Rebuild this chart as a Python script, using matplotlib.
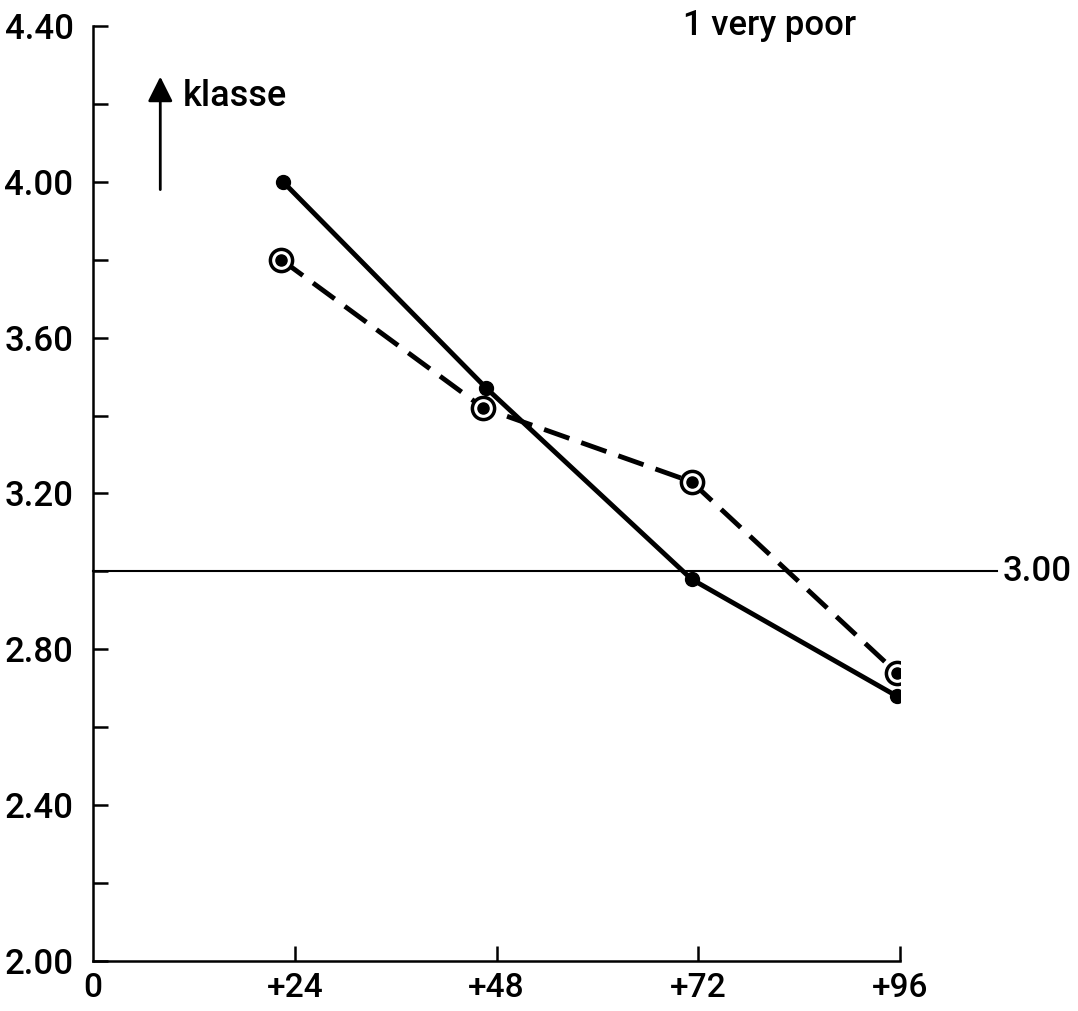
import numpy as np
import matplotlib
matplotlib.use("Agg")
import matplotlib.pyplot as plt

# data
hours_solid = [22.6, 46.8, 71.2, 95.6]
klasse_solid = [4.00, 3.47, 2.98, 2.68]
hours_dashed = [22.4, 46.4, 71.2, 95.6]
klasse_dashed = [3.80, 3.42, 3.23, 2.74]
reference_level = 3.00

xticks = [0, 24, 48, 72, 96]
xtick_labels = ["0", "+24", "+48", "+72", "+96"]
yticks_major = [2.00, 2.40, 2.80, 3.20, 3.60, 4.00, 4.40]
yticks_minor = [2.20, 2.60, 3.00, 3.40, 3.80, 4.20]

plt.rcParams['font.family'] = ['Roboto', 'DejaVu Sans']
plt.rcParams['font.weight'] = 'medium'

fig = plt.figure(figsize=(10.78, 10.11), dpi=100)
ax = fig.add_axes([0.0863, 0.0495, 0.7486, 0.9248])

ax.set_xlim(0, 96)
ax.set_ylim(2.0, 4.4)

# spines: only left and bottom
for side in ['top', 'right']:
    ax.spines[side].set_visible(False)
for side in ['left', 'bottom']:
    ax.spines[side].set_linewidth(1.8)

ax.set_xticks(xticks)
ax.set_xticklabels(xtick_labels, fontsize=24)
ax.set_yticks(yticks_major)
ax.set_yticklabels(["%.2f" % v for v in yticks_major], fontsize=25)
ax.set_yticks(yticks_minor, minor=True)
ax.tick_params(axis='both', which='both', direction='in', length=11, width=1.8)
ax.tick_params(axis='y', which='major', pad=14)
ax.tick_params(axis='x', which='major', pad=8)
# the "0" label sits on the spine, no tick there
ax.xaxis.get_major_ticks()[0].tick1line.set_visible(False)

# reference line at 3.00, drawn past the axes
ax.plot([0, 107.5], [reference_level, reference_level], color='black', lw=1.5,
        clip_on=False, zorder=1)
ax.text(108.2, reference_level, "%.2f" % reference_level, fontsize=25,
        va='center', ha='left', clip_on=False)

# solid series
ax.plot(hours_solid, klasse_solid, color='black', lw=3.5, marker='o',
        markersize=10, solid_capstyle='round', zorder=3)

# dashed series with ringed dots
ax.plot(hours_dashed, klasse_dashed, color='black', lw=3.5, dashes=(5.5, 2.6),
        zorder=2)
ax.plot(hours_dashed, klasse_dashed, linestyle='none', marker='o',
        markersize=16, mfc='white', mec='black', mew=2.5, zorder=4)
ax.plot(hours_dashed, klasse_dashed, linestyle='none', marker='o',
        markersize=8, color='black', zorder=5)

# "klasse" arrow
ax.annotate("", xy=(8.0, 4.27), xytext=(8.0, 3.98),
            arrowprops=dict(arrowstyle='-|>', lw=2, color='black',
                            mutation_scale=38, shrinkA=0, shrinkB=0))
ax.text(10.7, 4.22, "klasse", fontsize=26, va='center', ha='left')

ax.text(70.2, 4.40, "1 very poor", fontsize=25, va='center', ha='left',
        clip_on=False)

plt.savefig('out.png', dpi=100)
